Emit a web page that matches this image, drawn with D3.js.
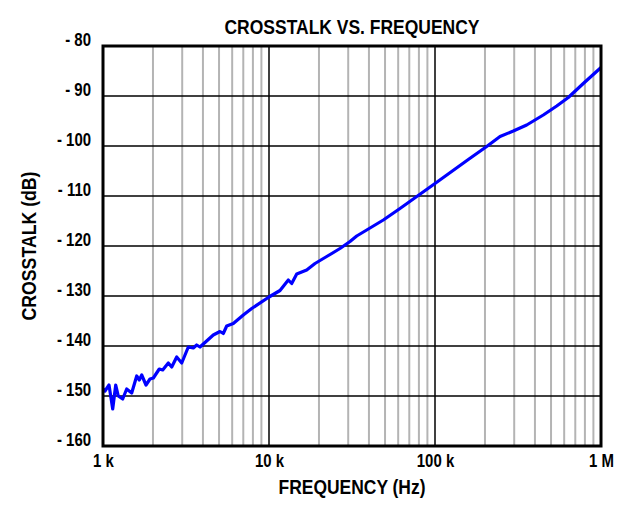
<!DOCTYPE html>
<html>
<head>
<meta charset="utf-8">
<script src="https://cdn.jsdelivr.net/npm/d3@7"></script>
<style>
  body { margin: 0; background: #fff; }
  text { font-family: "Liberation Sans", Arial, sans-serif; font-weight: bold; }
</style>
</head>
<body>
<svg id="chart"></svg>
<script>
// frequency (Hz) and crosstalk (dB)
let freq = [1000, 1028, 1087, 1144, 1193, 1236, 1314, 1389, 1489, 1596, 1655, 1711, 1816, 1919, 2010,
  2183, 2289, 2474, 2594, 2780, 2980, 3265, 3499, 3668, 3839, 4617, 5067, 5305, 5562, 6094, 7003,
  7867, 10000, 11650, 13070, 13700, 14690, 16870, 18930, 22270, 26770, 30760, 33760, 38780, 48830,
  61530, 100000, 158700, 204800, 246400, 296300, 356800, 449200, 541000, 635300, 782300, 1000000];
let crosstalk = [-148.6, -149, -147.8, -152.6, -147.8, -150, -150.6, -148.6, -149.4, -146, -146.8, -145.8, -147.8, -146.6, -146.4,
  -144.6, -144.8, -143.4, -144.2, -142.2, -143.4, -140.2, -140.4, -139.8, -140.2, -137.8, -137.1, -137.5, -136, -135.5, -133.8,
  -132.5, -130.2, -128.9, -126.8, -127.5, -125.6, -124.8, -123.5, -122.1, -120.5, -119.1, -118, -116.8, -114.8,
  -112.5, -107.5, -102.7, -100.1, -98.1, -97, -95.8, -93.8, -92, -90.3, -87.5, -84.3];

let xTicks = [1e3, 1e4, 1e5, 1e6];
let xTickLabels = ["1 k", "10 k", "100 k", "1 M"];
let yTicks = [-80, -90, -100, -110, -120, -130, -140, -150, -160];

let config = { svg: {}, plot: {} };
config.svg.width = 629;
config.svg.height = 517;
config.plot.x = 103;
config.plot.y = 46;
config.plot.width = 498;
config.plot.height = 400;

let svg = d3.select("svg#chart")
  .attr("width", config.svg.width)
  .attr("height", config.svg.height);

let plot = svg.append("g")
  .attr("transform", translate(config.plot.x, config.plot.y));

let scale = {};
scale.x = d3.scaleLog().domain([1e3, 1e6]).range([0, config.plot.width]);
scale.y = d3.scaleLinear().domain([-160, -80]).range([config.plot.height, 0]);

// minor gridlines (2..9 per decade)
let minor = [];
for (let dec = 1e3; dec < 1e6; dec *= 10) {
  for (let m = 2; m <= 9; m++) minor.push(dec * m);
}

plot.append("g").selectAll("line")
  .data(minor)
  .enter()
  .append("line")
  .attr("x1", d => scale.x(d))
  .attr("x2", d => scale.x(d))
  .attr("y1", 0)
  .attr("y2", config.plot.height)
  .attr("stroke", "#b4b4b4")
  .attr("stroke-width", 2);

plot.append("g").selectAll("line")
  .data(xTicks)
  .enter()
  .append("line")
  .attr("x1", d => scale.x(d))
  .attr("x2", d => scale.x(d))
  .attr("y1", 0)
  .attr("y2", config.plot.height)
  .attr("stroke", "#000")
  .attr("stroke-width", 1.5);

plot.append("g").selectAll("line")
  .data(yTicks)
  .enter()
  .append("line")
  .attr("x1", 0)
  .attr("x2", config.plot.width)
  .attr("y1", d => scale.y(d))
  .attr("y2", d => scale.y(d))
  .attr("stroke", "#000")
  .attr("stroke-width", 1.5);

let line = d3.line()
  .x(d => scale.x(d[0]))
  .y(d => scale.y(d[1]));

plot.append("path")
  .datum(d3.zip(freq, crosstalk))
  .attr("d", line)
  .attr("fill", "none")
  .attr("stroke", "#0000ff")
  .attr("stroke-width", 3.2)
  .attr("stroke-linejoin", "round");

plot.append("rect")
  .attr("width", config.plot.width)
  .attr("height", config.plot.height)
  .attr("fill", "none")
  .attr("stroke", "#000")
  .attr("stroke-width", 3);

// axes (labels only)
let axis = {};
axis.x = d3.axisBottom(scale.x)
  .tickValues(xTicks)
  .tickFormat((d, i) => xTickLabels[i])
  .tickSize(0)
  .tickPadding(9);
axis.y = d3.axisLeft(scale.y)
  .tickValues(yTicks)
  .tickFormat(d => "- " + Math.abs(d))
  .tickSize(0)
  .tickPadding(12);

let gx = svg.append("g")
  .attr("transform", translate(config.plot.x, config.plot.y + config.plot.height))
  .call(axis.x);
let gy = svg.append("g")
  .attr("transform", translate(config.plot.x, config.plot.y))
  .call(axis.y);

[gx, gy].forEach(g => {
  g.select(".domain").remove();
  g.selectAll("text")
    .attr("font-size", "18px")
    .attr("font-family", null)
    .attr("fill", "#000");
  condense(g.selectAll("text"), 0.83);
});
gy.selectAll("text").attr("dy", "-0.02em");
gx.selectAll("text").attr("dy", "0.68em");

let title = svg.append("text")
  .text("CROSSTALK VS. FREQUENCY")
  .attr("x", 352)
  .attr("y", 34)
  .attr("text-anchor", "middle")
  .attr("font-size", "20px");

let xTitle = svg.append("text")
  .text("FREQUENCY (Hz)")
  .attr("x", 352)
  .attr("y", 494)
  .attr("text-anchor", "middle")
  .attr("font-size", "19.5px");

let yTitle = svg.append("text")
  .text("CROSSTALK (dB)")
  .attr("transform", translate(35.5, 246) + " rotate(-90)")
  .attr("text-anchor", "middle")
  .attr("font-size", "19.5px");

fitWidth(title, 255);
fitWidth(xTitle, 147);
fitWidth(yTitle, 149);

function condense(sel, ratio) {
  sel.each(function() {
    let len = this.getComputedTextLength();
    d3.select(this)
      .attr("textLength", len * ratio)
      .attr("lengthAdjust", "spacingAndGlyphs");
  });
}

function fitWidth(sel, width) {
  sel.attr("textLength", width).attr("lengthAdjust", "spacingAndGlyphs");
}

function translate(x, y) {
  return "translate(" + x + "," + y + ")";
}
</script>
</body>
</html>
